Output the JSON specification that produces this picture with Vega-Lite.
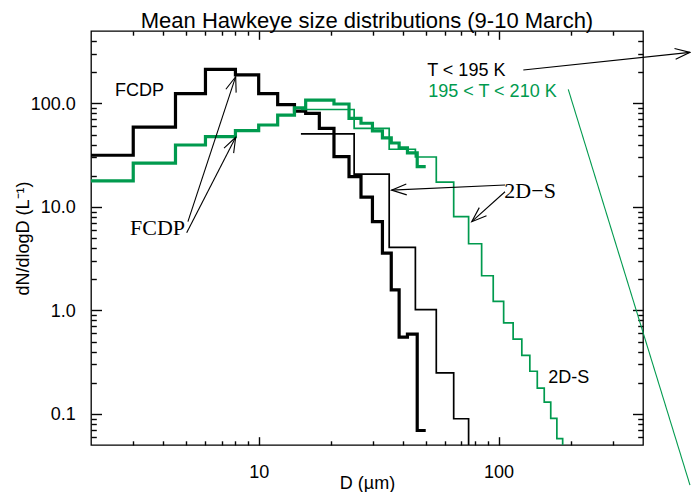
{
  "$schema": "https://vega.github.io/schema/vega-lite/v6.json",
  "width": 552,
  "height": 414,
  "autosize": {"type": "none"},
  "padding": {"left": 91, "top": 31, "right": 48, "bottom": 47},
  "background": "white",
  "title": {"text": "Mean Hawkeye size distributions (9-10 March)", "font": "Liberation Sans", "fontSize": 22, "fontWeight": "normal", "color": "black", "anchor": "middle", "offset": -3},
  "config": {
    "view": {"stroke": "black", "strokeWidth": 1.3},
    "axis": {"domain": false, "grid": false, "tickWidth": 1.4, "tickOpacity": 1, "labelColor": "black", "titleColor": "black", "labelFont": "Liberation Sans", "titleFont": "Liberation Sans", "labelFontSize": 18, "titleFontSize": 18, "titleFontWeight": "normal", "labelFlush": false, "labelOverlap": false, "labelBound": false}
  },
  "resolve": {"axis": {"x": "independent", "y": "independent"}},
  "datasets": {
    "steps": [
      {"inst": "FCDP", "T": "T < 195 K", "D": 2, "N": 31.5},
      {"inst": "FCDP", "T": "T < 195 K", "D": 3, "N": 59},
      {"inst": "FCDP", "T": "T < 195 K", "D": 4.5, "N": 124},
      {"inst": "FCDP", "T": "T < 195 K", "D": 6, "N": 213},
      {"inst": "FCDP", "T": "T < 195 K", "D": 8, "N": 188},
      {"inst": "FCDP", "T": "T < 195 K", "D": 10, "N": 124},
      {"inst": "FCDP", "T": "T < 195 K", "D": 12, "N": 97},
      {"inst": "FCDP", "T": "T < 195 K", "D": 14.1, "N": 84},
      {"inst": "FCDP", "T": "T < 195 K", "D": 15.7, "N": 80},
      {"inst": "FCDP", "T": "T < 195 K", "D": 17.9, "N": 57.4},
      {"inst": "FCDP", "T": "T < 195 K", "D": 20.6, "N": 30.6},
      {"inst": "FCDP", "T": "T < 195 K", "D": 23.8, "N": 19.6},
      {"inst": "FCDP", "T": "T < 195 K", "D": 26.7, "N": 12.4},
      {"inst": "FCDP", "T": "T < 195 K", "D": 29.8, "N": 7.2},
      {"inst": "FCDP", "T": "T < 195 K", "D": 32.8, "N": 3.57},
      {"inst": "FCDP", "T": "T < 195 K", "D": 35.7, "N": 1.58},
      {"inst": "FCDP", "T": "T < 195 K", "D": 38.5, "N": 0.55},
      {"inst": "FCDP", "T": "T < 195 K", "D": 41.7, "N": 0.59},
      {"inst": "FCDP", "T": "T < 195 K", "D": 45.8, "N": 0.069},
      {"inst": "FCDP", "T": "T < 195 K", "D": 49.7, "N": 0.069},
      {"inst": "FCDP", "T": "195 < T < 210 K", "D": 2, "N": 17.8},
      {"inst": "FCDP", "T": "195 < T < 210 K", "D": 3, "N": 26.4},
      {"inst": "FCDP", "T": "195 < T < 210 K", "D": 4.5, "N": 39.6},
      {"inst": "FCDP", "T": "195 < T < 210 K", "D": 6, "N": 47.6},
      {"inst": "FCDP", "T": "195 < T < 210 K", "D": 8, "N": 54.5},
      {"inst": "FCDP", "T": "195 < T < 210 K", "D": 10, "N": 61.8},
      {"inst": "FCDP", "T": "195 < T < 210 K", "D": 12, "N": 77.1},
      {"inst": "FCDP", "T": "195 < T < 210 K", "D": 14.1, "N": 90.7},
      {"inst": "FCDP", "T": "195 < T < 210 K", "D": 15.7, "N": 107.6},
      {"inst": "FCDP", "T": "195 < T < 210 K", "D": 17.9, "N": 107.6},
      {"inst": "FCDP", "T": "195 < T < 210 K", "D": 20.6, "N": 98.5},
      {"inst": "FCDP", "T": "195 < T < 210 K", "D": 23.8, "N": 71.7},
      {"inst": "FCDP", "T": "195 < T < 210 K", "D": 26.7, "N": 64.2},
      {"inst": "FCDP", "T": "195 < T < 210 K", "D": 29.8, "N": 54.1},
      {"inst": "FCDP", "T": "195 < T < 210 K", "D": 32.8, "N": 46.3},
      {"inst": "FCDP", "T": "195 < T < 210 K", "D": 35.7, "N": 41.4},
      {"inst": "FCDP", "T": "195 < T < 210 K", "D": 38.5, "N": 37.1},
      {"inst": "FCDP", "T": "195 < T < 210 K", "D": 41.7, "N": 33.2},
      {"inst": "FCDP", "T": "195 < T < 210 K", "D": 45.8, "N": 24.5},
      {"inst": "FCDP", "T": "195 < T < 210 K", "D": 49.7, "N": 24.5},
      {"inst": "2D-S", "T": "T < 195 K", "D": 15, "N": 50.6},
      {"inst": "2D-S", "T": "T < 195 K", "D": 25, "N": 20.7},
      {"inst": "2D-S", "T": "T < 195 K", "D": 35, "N": 4.05},
      {"inst": "2D-S", "T": "T < 195 K", "D": 45, "N": 1.016},
      {"inst": "2D-S", "T": "T < 195 K", "D": 55, "N": 0.249},
      {"inst": "2D-S", "T": "T < 195 K", "D": 65, "N": 0.0897},
      {"inst": "2D-S", "T": "T < 195 K", "D": 75, "N": 0.03},
      {"inst": "2D-S", "T": "T < 195 K", "D": 85, "N": 0.03},
      {"inst": "2D-S", "T": "195 < T < 210 K", "D": 15, "N": 87.2},
      {"inst": "2D-S", "T": "195 < T < 210 K", "D": 25, "N": 57.4},
      {"inst": "2D-S", "T": "195 < T < 210 K", "D": 35, "N": 36},
      {"inst": "2D-S", "T": "195 < T < 210 K", "D": 45, "N": 30.3},
      {"inst": "2D-S", "T": "195 < T < 210 K", "D": 55, "N": 17.3},
      {"inst": "2D-S", "T": "195 < T < 210 K", "D": 65, "N": 8.06},
      {"inst": "2D-S", "T": "195 < T < 210 K", "D": 75, "N": 4.4},
      {"inst": "2D-S", "T": "195 < T < 210 K", "D": 85, "N": 2.16},
      {"inst": "2D-S", "T": "195 < T < 210 K", "D": 95, "N": 1.22},
      {"inst": "2D-S", "T": "195 < T < 210 K", "D": 105, "N": 0.757},
      {"inst": "2D-S", "T": "195 < T < 210 K", "D": 115, "N": 0.526},
      {"inst": "2D-S", "T": "195 < T < 210 K", "D": 125, "N": 0.368},
      {"inst": "2D-S", "T": "195 < T < 210 K", "D": 135, "N": 0.258},
      {"inst": "2D-S", "T": "195 < T < 210 K", "D": 145, "N": 0.177},
      {"inst": "2D-S", "T": "195 < T < 210 K", "D": 155, "N": 0.13},
      {"inst": "2D-S", "T": "195 < T < 210 K", "D": 165, "N": 0.0906},
      {"inst": "2D-S", "T": "195 < T < 210 K", "D": 175, "N": 0.0575},
      {"inst": "2D-S", "T": "195 < T < 210 K", "D": 185, "N": 0.03},
      {"inst": "2D-S", "T": "195 < T < 210 K", "D": 195, "N": 0.03}
    ],
    "notes": [
      {"text": "FCDP", "kind": "sans", "D": 2.52, "N": 117.8},
      {"text": "2D-S", "kind": "sans", "D": 161.1, "N": 0.1973},
      {"text": "T < 195 K", "kind": "temp", "T": "T < 195 K", "D": 50.4, "N": 183.7},
      {"text": "195 < T < 210 K", "kind": "temp", "T": "195 < T < 210 K", "D": 50.9, "N": 115.9},
      {"text": "FCDP", "kind": "serif", "D": 2.91, "N": 5.35},
      {"text": "2D−S", "kind": "serif", "D": 105.7, "N": 12.1}
    ],
    "pointers": [
      {"id": "a1", "part": "tail", "D": 5.07, "N": 7.19},
      {"id": "a1", "part": "tip", "D": 8.02, "N": 181},
      {"id": "a2", "part": "tail", "D": 5.01, "N": 5.63},
      {"id": "a2", "part": "tip", "D": 8.02, "N": 47.0},
      {"id": "a3", "part": "tail", "D": 106.4, "N": 16.25},
      {"id": "a3", "part": "tip", "D": 35.8, "N": 14.5},
      {"id": "a4", "part": "tail", "D": 106.4, "N": 14.0},
      {"id": "a4", "part": "tip", "D": 77.3, "N": 7.19},
      {"id": "a5", "part": "tail", "T": "T < 195 K", "D": 126.8, "N": 210},
      {"id": "a5", "part": "tip", "T": "T < 195 K", "D": 628, "N": 311},
      {"id": "a6", "part": "tail", "T": "195 < T < 210 K", "D": 195.2, "N": 136.7},
      {"id": "a6", "part": "tip", "T": "195 < T < 210 K", "D": 628, "N": 0.0205}
    ]
  },
  "layer": [
    {
      "data": {"name": "steps"},
      "transform": [{"filter": "datum.inst === 'FCDP'"}],
      "mark": {"type": "line", "interpolate": "step-after", "strokeWidth": 3.2, "clip": true},
      "encoding": {
        "x": {"field": "D", "type": "quantitative", "scale": {"type": "log", "domain": [2, 400], "nice": false},
              "axis": {"orient": "bottom", "values": [10, 100], "format": "d", "ticks": true, "tickSize": 8.3, "offset": -8.3, "tickColor": "#050505", "labelPadding": 18.7, "title": "D (µm)", "titleBaseline": "alphabetic", "titleY": 51.6}},
        "y": {"field": "N", "type": "quantitative", "scale": {"type": "log", "domain": [0.05, 500], "nice": false},
              "axis": {"orient": "left", "values": [0.1, 1, 10, 100], "labelExpr": "datum.value >= 1 ? format(datum.value, '.1f') : '0.1'", "ticks": true, "tickSize": 10.5, "offset": -10.5, "tickColor": "#050505", "labelPadding": 15.8, "labelOffset": 1, "title": "dN/dlogD (L⁻¹)", "titleBaseline": "alphabetic", "titleX": -73.5}},
        "color": {"field": "T", "type": "nominal", "scale": {"domain": ["T < 195 K", "195 < T < 210 K"], "range": ["black", "#009a4e"]}, "legend": null}
      }
    },
    {
      "data": {"name": "steps"},
      "transform": [{"filter": "datum.inst === '2D-S'"}],
      "mark": {"type": "line", "interpolate": "step-after", "strokeWidth": 1.7, "clip": true},
      "encoding": {
        "x": {"field": "D", "type": "quantitative", "axis": null},
        "y": {"field": "N", "type": "quantitative", "axis": null},
        "color": {"field": "T", "type": "nominal", "legend": null}
      }
    },
    {
      "data": {"name": "pointers"},
      "transform": [{"filter": "datum.T == null"}],
      "mark": {"type": "line", "strokeWidth": 1.1, "color": "black", "clip": false},
      "encoding": {
        "x": {"field": "D", "type": "quantitative", "scale": {"type": "log", "domain": [2, 400], "nice": false},
              "axis": {"orient": "bottom", "values": [3, 4, 5, 6, 7, 8, 9, 20, 30, 40, 50, 60, 70, 80, 90, 200, 300], "labels": false, "ticks": true, "tickSize": 4.2, "offset": -4.2, "tickColor": "#050505", "title": null}},
        "y": {"field": "N", "type": "quantitative", "scale": {"type": "log", "domain": [0.05, 500], "nice": false},
              "axis": {"orient": "left", "values": [0.06, 0.07, 0.08, 0.09, 0.2, 0.3, 0.4, 0.5, 0.6, 0.7, 0.8, 0.9, 2, 3, 4, 5, 6, 7, 8, 9, 20, 30, 40, 50, 60, 70, 80, 90, 200, 300, 400], "labels": false, "ticks": true, "tickSize": 5.3, "offset": -5.3, "tickColor": "#050505", "title": null}},
        "detail": {"field": "id"}
      }
    },
    {
      "data": {"name": "pointers"},
      "transform": [{"filter": "datum.T != null"}],
      "mark": {"type": "line", "strokeWidth": 1.1, "clip": false},
      "encoding": {
        "x": {"field": "D", "type": "quantitative", "axis": null},
        "y": {"field": "N", "type": "quantitative", "axis": null},
        "color": {"field": "T", "type": "nominal", "legend": null},
        "detail": {"field": "id"}
      }
    },
    {
      "data": {"name": "notes"},
      "transform": [{"filter": "datum.kind === 'sans'"}],
      "mark": {"type": "text", "align": "left", "baseline": "alphabetic", "font": "Liberation Sans", "fontSize": 18, "color": "black"},
      "encoding": {
        "x": {"field": "D", "type": "quantitative", "scale": {"type": "log", "domain": [2, 400], "nice": false},
              "axis": {"orient": "top", "values": [10, 100], "labels": false, "ticks": true, "tickSize": 8.3, "offset": -8.3, "tickColor": "#050505", "title": null}},
        "y": {"field": "N", "type": "quantitative", "scale": {"type": "log", "domain": [0.05, 500], "nice": false},
              "axis": {"orient": "right", "values": [0.1, 1, 10, 100], "labels": false, "ticks": true, "tickSize": 10.5, "offset": -10.5, "tickColor": "#050505", "title": null}},
        "text": {"field": "text"}
      }
    },
    {
      "data": {"name": "notes"},
      "transform": [{"filter": "datum.kind === 'temp'"}],
      "mark": {"type": "text", "align": "left", "baseline": "alphabetic", "font": "Liberation Sans", "fontSize": 18},
      "encoding": {
        "x": {"field": "D", "type": "quantitative", "axis": null},
        "y": {"field": "N", "type": "quantitative", "axis": null},
        "color": {"field": "T", "type": "nominal", "legend": null},
        "text": {"field": "text"}
      }
    },
    {
      "data": {"name": "notes"},
      "transform": [{"filter": "datum.kind === 'serif'"}],
      "mark": {"type": "text", "align": "left", "baseline": "alphabetic", "font": "Liberation Serif", "fontSize": 22, "color": "black"},
      "encoding": {
        "x": {"field": "D", "type": "quantitative", "scale": {"type": "log", "domain": [2, 400], "nice": false},
              "axis": {"orient": "top", "values": [3, 4, 5, 6, 7, 8, 9, 20, 30, 40, 50, 60, 70, 80, 90, 200, 300], "labels": false, "ticks": true, "tickSize": 4.2, "offset": -4.2, "tickColor": "#050505", "title": null}},
        "y": {"field": "N", "type": "quantitative", "scale": {"type": "log", "domain": [0.05, 500], "nice": false},
              "axis": {"orient": "right", "values": [0.06, 0.07, 0.08, 0.09, 0.2, 0.3, 0.4, 0.5, 0.6, 0.7, 0.8, 0.9, 2, 3, 4, 5, 6, 7, 8, 9, 20, 30, 40, 50, 60, 70, 80, 90, 200, 300, 400], "labels": false, "ticks": true, "tickSize": 5.3, "offset": -5.3, "tickColor": "#050505", "title": null}},
        "text": {"field": "text"}
      }
    },
    {
      "data": {"name": "pointers"},
      "transform": [{"filter": "datum.id === 'a1' && datum.part === 'tip'"}],
      "mark": {"type": "point", "shape": "M-0.36,1L0,0L0.36,1", "filled": false, "size": 900, "angle": 18.2, "color": "black", "strokeWidth": 1.1, "opacity": 1, "clip": false},
      "encoding": {
        "x": {"field": "D", "type": "quantitative", "axis": null},
        "y": {"field": "N", "type": "quantitative", "axis": null}
      }
    },
    {
      "data": {"name": "pointers"},
      "transform": [{"filter": "datum.id === 'a2' && datum.part === 'tip'"}],
      "mark": {"type": "point", "shape": "M-0.36,1L0,0L0.36,1", "filled": false, "size": 900, "angle": 27.2, "color": "black", "strokeWidth": 1.1, "opacity": 1, "clip": false},
      "encoding": {
        "x": {"field": "D", "type": "quantitative", "axis": null},
        "y": {"field": "N", "type": "quantitative", "axis": null}
      }
    },
    {
      "data": {"name": "pointers"},
      "transform": [{"filter": "datum.id === 'a3' && datum.part === 'tip'"}],
      "mark": {"type": "point", "shape": "M-0.36,1L0,0L0.36,1", "filled": false, "size": 900, "angle": -92.5, "color": "black", "strokeWidth": 1.1, "opacity": 1, "clip": false},
      "encoding": {
        "x": {"field": "D", "type": "quantitative", "axis": null},
        "y": {"field": "N", "type": "quantitative", "axis": null}
      }
    },
    {
      "data": {"name": "pointers"},
      "transform": [{"filter": "datum.id === 'a4' && datum.part === 'tip'"}],
      "mark": {"type": "point", "shape": "M-0.36,1L0,0L0.36,1", "filled": false, "size": 900, "angle": -132, "color": "black", "strokeWidth": 1.1, "opacity": 1, "clip": false},
      "encoding": {
        "x": {"field": "D", "type": "quantitative", "axis": null},
        "y": {"field": "N", "type": "quantitative", "axis": null}
      }
    },
    {
      "data": {"name": "pointers"},
      "transform": [{"filter": "datum.id === 'a5' && datum.part === 'tip'"}],
      "mark": {"type": "point", "shape": "M-0.36,1L0,0L0.36,1", "filled": false, "size": 900, "angle": 83.9, "color": "black", "strokeWidth": 1.1, "opacity": 1, "clip": false},
      "encoding": {
        "x": {"field": "D", "type": "quantitative", "axis": null},
        "y": {"field": "N", "type": "quantitative", "axis": null}
      }
    }
  ]
}
